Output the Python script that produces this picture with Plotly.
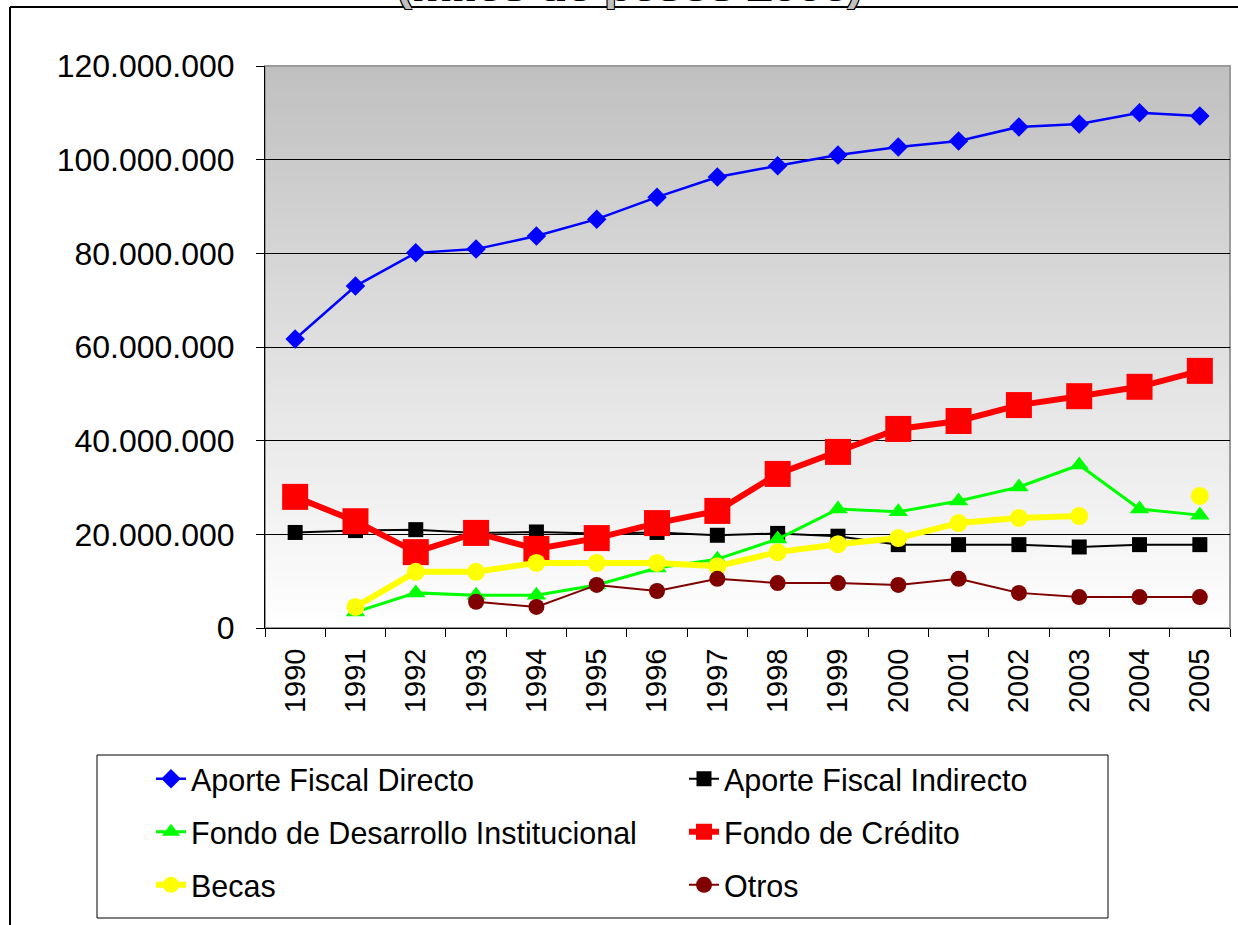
import plotly.graph_objects as go

###########
# Data    #
###########

years = [str(y) for y in range(1990, 2006)]

aporte_directo = [61.7, 73.0, 80.1, 80.9, 83.7, 87.3, 92.0, 96.3, 98.7, 101.0,
                  102.7, 104.0, 107.0, 107.6, 110.0, 109.3]
aporte_indirecto = [20.4, 20.8, 21.0, 20.3, 20.5, 20.2, 20.4, 19.8, 20.2, 19.6,
                    17.8, 17.8, 17.8, 17.3, 17.8, 17.8]
fondo_desarrollo = [None, 3.4, 7.5, 7.0, 7.0, 9.2, 12.8, 14.7, 19.0, 25.4,
                    24.8, 27.1, 30.1, 34.8, 25.4, 24.1]
fondo_credito = [28.0, 22.8, 16.2, 20.3, 16.9, 19.2, 22.4, 25.0, 32.9, 37.6,
                 42.5, 44.2, 47.6, 49.5, 51.5, 54.9]
becas = [None, 4.5, 12.0, 12.0, 13.9, 13.9, 13.9, 13.2, 16.2, 17.9,
         19.2, 22.4, 23.5, 23.9, None, 28.2]
otros = [None, None, None, 5.6, 4.5, 9.2, 7.9, 10.5, 9.6, 9.6,
         9.2, 10.5, 7.5, 6.6, 6.6, 6.6]

def millions(vals):
    return [None if v is None else v * 1_000_000 for v in vals]

###########
# Layout  #
###########

FONT = "Liberation Sans, Arial, sans-serif"
W, H = 1238, 925
M_L, M_R, M_T, M_B = 265, 8, 66, 297
PW, PH = W - M_L - M_R, H - M_T - M_B


def px_x(x):
    # page pixel -> paper x
    return (x - M_L) / PW


def px_y(y):
    # page pixel -> paper y
    return (H - M_B - y) / PH


fig = go.Figure()

# name, values, colour, line width, symbol, marker size, legend
series = [
    ("Aporte Fiscal Directo", aporte_directo, "#0000FF", 2.5, "diamond", 15, "legend"),
    ("Aporte Fiscal Indirecto", aporte_indirecto, "#000000", 2, "square", 15, "legend"),
    ("Fondo de Desarrollo Institucional", fondo_desarrollo, "#00FF00", 3, "triangle-up", 17, "legend2"),
    ("Fondo de Crédito", fondo_credito, "#FF0000", 6, "square", 26, "legend2"),
    ("Becas", becas, "#FFFF00", 6, "circle", 18, "legend3"),
    ("Otros", otros, "#800000", 2, "circle", 16, "legend3"),
]

for name, vals, color, lw, sym, ms, leg in series:
    fig.add_trace(go.Scatter(
        x=years,
        y=millions(vals),
        name=name,
        legend=leg,
        mode="lines+markers",
        line=dict(color=color, width=lw),
        marker=dict(symbol=sym, size=ms, color=color),
        connectgaps=False,
    ))

# gradient plot background (grey top -> white bottom)
shapes = []
N_BANDS = 80
for i in range(N_BANDS):
    t = i / N_BANDS
    g = int(round(192 + (255 - 192) * (1 - t - 0.5 / N_BANDS)))
    shapes.append(dict(
        type="rect", xref="paper", yref="paper",
        x0=0, x1=1, y0=t, y1=(i + 1) / N_BANDS + 0.002,
        fillcolor=f"rgb({g},{g},{g})", line=dict(width=0), layer="below",
    ))

# plot area border (grey right edge)
shapes.append(dict(type="rect", xref="paper", yref="paper", x0=0, x1=1, y0=0, y1=1,
                   line=dict(color="#9a9a9a", width=2), layer="below"))

# outer chart frame (top and left)
shapes.append(dict(type="line", xref="paper", yref="paper", x0=px_x(10), x1=px_x(W + 5),
                   y0=px_y(7), y1=px_y(7), line=dict(color="black", width=2)))
shapes.append(dict(type="line", xref="paper", yref="paper", x0=px_x(10), x1=px_x(10),
                   y0=px_y(H + 5), y1=px_y(7), line=dict(color="black", width=2)))

# legend box
shapes.append(dict(type="rect", xref="paper", yref="paper",
                   x0=px_x(97), x1=px_x(1108), y0=px_y(755), y1=px_y(918),
                   fillcolor="white", line=dict(color="black", width=1)))

legend_common = dict(
    orientation="h",
    xanchor="left", yanchor="middle",
    x=px_x(151),
    bgcolor="rgba(0,0,0,0)",
    borderwidth=0,
    font=dict(family=FONT, size=30.5, color="black"),
    entrywidth=488, entrywidthmode="pixels",
    traceorder="normal",
)

fig.update_layout(
    width=W, height=H,
    margin=dict(l=M_L, r=M_R, t=M_T, b=M_B, autoexpand=False),
    paper_bgcolor="white",
    plot_bgcolor="rgba(0,0,0,0)",
    separators=",.",
    font=dict(family=FONT, size=30, color="black"),
    shapes=shapes,
    showlegend=True,
    legend=dict(legend_common, y=px_y(779)),
    legend2=dict(legend_common, y=px_y(832)),
    legend3=dict(legend_common, y=px_y(885)),
    annotations=[dict(
        text="<b>(miles de pesos 2006)</b>",
        xref="paper", yref="paper",
        x=px_x(629), xanchor="center",
        y=px_y(12), yanchor="bottom",
        showarrow=False,
        font=dict(family=FONT, size=45, color="#c0c0c0",
                  shadow="1px 1px 0 #000, -1px -1px 0 #000, 1px -1px 0 #000, -1px 1px 0 #000"),
    )],
)

fig.update_xaxes(
    type="category",
    range=[-0.5, len(years) - 0.5],
    tickangle=-90,
    ticks="outside", tickson="boundaries", ticklen=8, tickcolor="black",
    showline=True, linecolor="black", linewidth=1,
    showgrid=False,
    tickfont=dict(family=FONT, size=29),
    ticklabelstandoff=8,
    automargin=False,
)

fig.update_yaxes(
    range=[0, 120_000_000],
    dtick=20_000_000,
    tickformat=",.0f",
    ticks="outside", ticklen=8, tickcolor="black",
    showline=True, linecolor="black", linewidth=1,
    showgrid=True, gridcolor="black", gridwidth=1,
    zeroline=False,
    tickfont=dict(family=FONT, size=32),
    ticklabelstandoff=15,
    automargin=False,
)

# drop the default 8px page margin so the figure sits at the window's corner
fig.write_html(
    "out.html",
    config={"displayModeBar": False},
    post_script="document.body.style.margin = '0';",
)
